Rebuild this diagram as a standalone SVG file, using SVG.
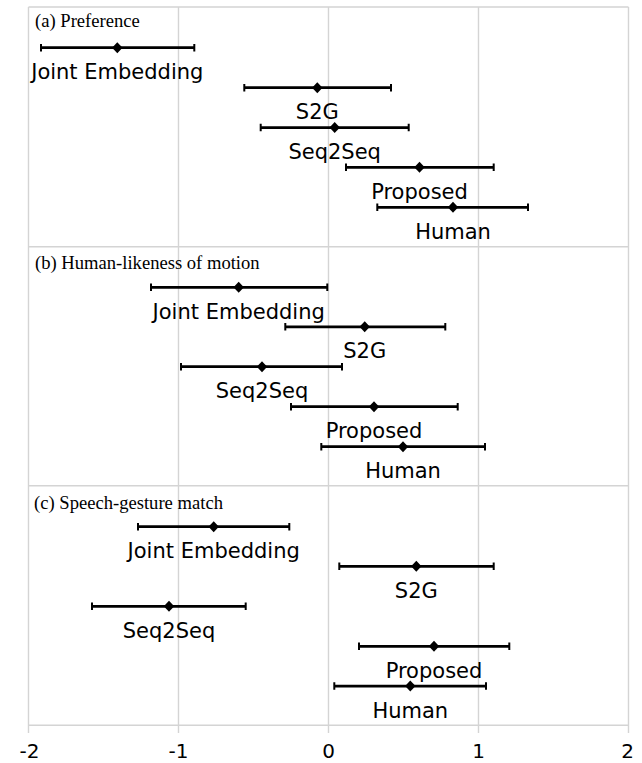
<svg xmlns="http://www.w3.org/2000/svg" width="642" height="763" viewBox="0 0 642 763">
<style>
.grid{stroke:#d4d4d4;stroke-width:1.4;fill:none}
.bar{stroke:#000;stroke-width:2.75;fill:none}
.cap{stroke:#000;stroke-width:2;fill:none}
.dia{fill:#000}
.lbl{font-family:"DejaVu Sans",Verdana,sans-serif;font-size:21px;fill:#000;text-anchor:middle}
.ttl{font-family:"Liberation Serif","Times New Roman",serif;font-size:18.6px;fill:#000}
.tick{font-family:"DejaVu Sans",Verdana,sans-serif;font-size:20px;fill:#000;text-anchor:middle}
</style>
<defs>
<path id="d" d="M0,-5.5 L5.2,0 L0,5.5 L-5.2,0 Z"/>
</defs>
<rect width="642" height="763" fill="#fff"/>
<g id="grid">
<path class="grid" d="M28.5,7V733M178.5,7V733M328.5,7V733M478.5,7V733M628.5,7V733"/>
<path class="grid" d="M28.5,7H628.5M28.5,246.7H628.5M28.5,485.7H628.5M28.5,725.3H628.5"/>
</g>
<g id="titles">
<text class="ttl" x="35" y="27.3">(a) Preference</text>
<text class="ttl" x="35" y="268.8">(b) Human-likeness of motion</text>
<text class="ttl" x="34" y="508.5">(c) Speech-gesture match</text>
</g>
<g id="axis">
<text class="tick" x="29.5" y="758">-2</text>
<text class="tick" x="178.5" y="758">-1</text>
<text class="tick" x="328.5" y="758">0</text>
<text class="tick" x="478.5" y="758">1</text>
<text class="tick" x="627.5" y="758">2</text>
</g>
<g id="connectors"></g>
<!-- Panel a -->
<g id="a-je"><path class="bar" d="M41,47.7H194.3"/><path class="cap" d="M41,44V51.4M194.3,44V51.4"/><use href="#d" x="117.3" y="47.7"/><text class="lbl" x="117.3" y="79">Joint Embedding</text></g>
<g id="a-s2g"><path class="bar" d="M244.3,87.7H391"/><path class="cap" d="M244.3,84V91.4M391,84V91.4"/><use href="#d" x="317.3" y="87.7"/><text class="lbl" x="317.3" y="119.3">S2G</text></g>
<g id="a-seq"><path class="bar" d="M260.7,127.5H408.7"/><path class="cap" d="M260.7,123.8V131.2M408.7,123.8V131.2"/><use href="#d" x="334.7" y="127.5"/><text class="lbl" x="334.7" y="159">Seq2Seq</text></g>
<g id="a-prop"><path class="bar" d="M346,167.3H493.7"/><path class="cap" d="M346,163.6V171M493.7,163.6V171"/><use href="#d" x="419.5" y="167.3"/><text class="lbl" x="419.5" y="198.8">Proposed</text></g>
<g id="a-hum"><path class="bar" d="M377.3,207.3H528"/><path class="cap" d="M377.3,203.6V211M528,203.6V211"/><use href="#d" x="453" y="207.3"/><text class="lbl" x="453" y="238.8">Human</text></g>
<!-- Panel b -->
<g id="b-je"><path class="bar" d="M151,287.3H327.3"/><path class="cap" d="M151,283.6V291M327.3,283.6V291"/><use href="#d" x="238.7" y="287.3"/><text class="lbl" x="238.7" y="318.5">Joint Embedding</text></g>
<g id="b-s2g"><path class="bar" d="M285.3,326.8H445.3"/><path class="cap" d="M285.3,323.1V330.5M445.3,323.1V330.5"/><use href="#d" x="364.7" y="326.8"/><text class="lbl" x="364.7" y="358.3">S2G</text></g>
<g id="b-seq"><path class="bar" d="M181,366.7H342"/><path class="cap" d="M181,363V370.4M342,363V370.4"/><use href="#d" x="262" y="366.7"/><text class="lbl" x="262" y="398.2">Seq2Seq</text></g>
<g id="b-prop"><path class="bar" d="M291,406.7H457.7"/><path class="cap" d="M291,403V410.4M457.7,403V410.4"/><use href="#d" x="374" y="406.7"/><text class="lbl" x="374" y="438.2">Proposed</text></g>
<g id="b-hum"><path class="bar" d="M321.3,446.7H485"/><path class="cap" d="M321.3,443V450.4M485,443V450.4"/><use href="#d" x="403" y="446.7"/><text class="lbl" x="403" y="478.2">Human</text></g>
<!-- Panel c -->
<g id="c-je"><path class="bar" d="M138,526.7H289.3"/><path class="cap" d="M138,523V530.4M289.3,523V530.4"/><use href="#d" x="213.7" y="526.7"/><text class="lbl" x="213.7" y="558.2">Joint Embedding</text></g>
<g id="c-s2g"><path class="bar" d="M339.3,566.3H493.7"/><path class="cap" d="M339.3,562.6V570M493.7,562.6V570"/><use href="#d" x="416.3" y="566.3"/><text class="lbl" x="416.3" y="597.8">S2G</text></g>
<g id="c-seq"><path class="bar" d="M92,606.3H245.7"/><path class="cap" d="M92,602.6V610M245.7,602.6V610"/><use href="#d" x="169" y="606.3"/><text class="lbl" x="169" y="637.8">Seq2Seq</text></g>
<g id="c-prop"><path class="bar" d="M359,646.3H509.3"/><path class="cap" d="M359,642.6V650M509.3,642.6V650"/><use href="#d" x="434" y="646.3"/><text class="lbl" x="434" y="677.8">Proposed</text></g>
<g id="c-hum"><path class="bar" d="M334.3,686H486"/><path class="cap" d="M334.3,682.3V689.7M486,682.3V689.7"/><use href="#d" x="410.3" y="686"/><text class="lbl" x="410.3" y="717.5">Human</text></g>
</svg>
